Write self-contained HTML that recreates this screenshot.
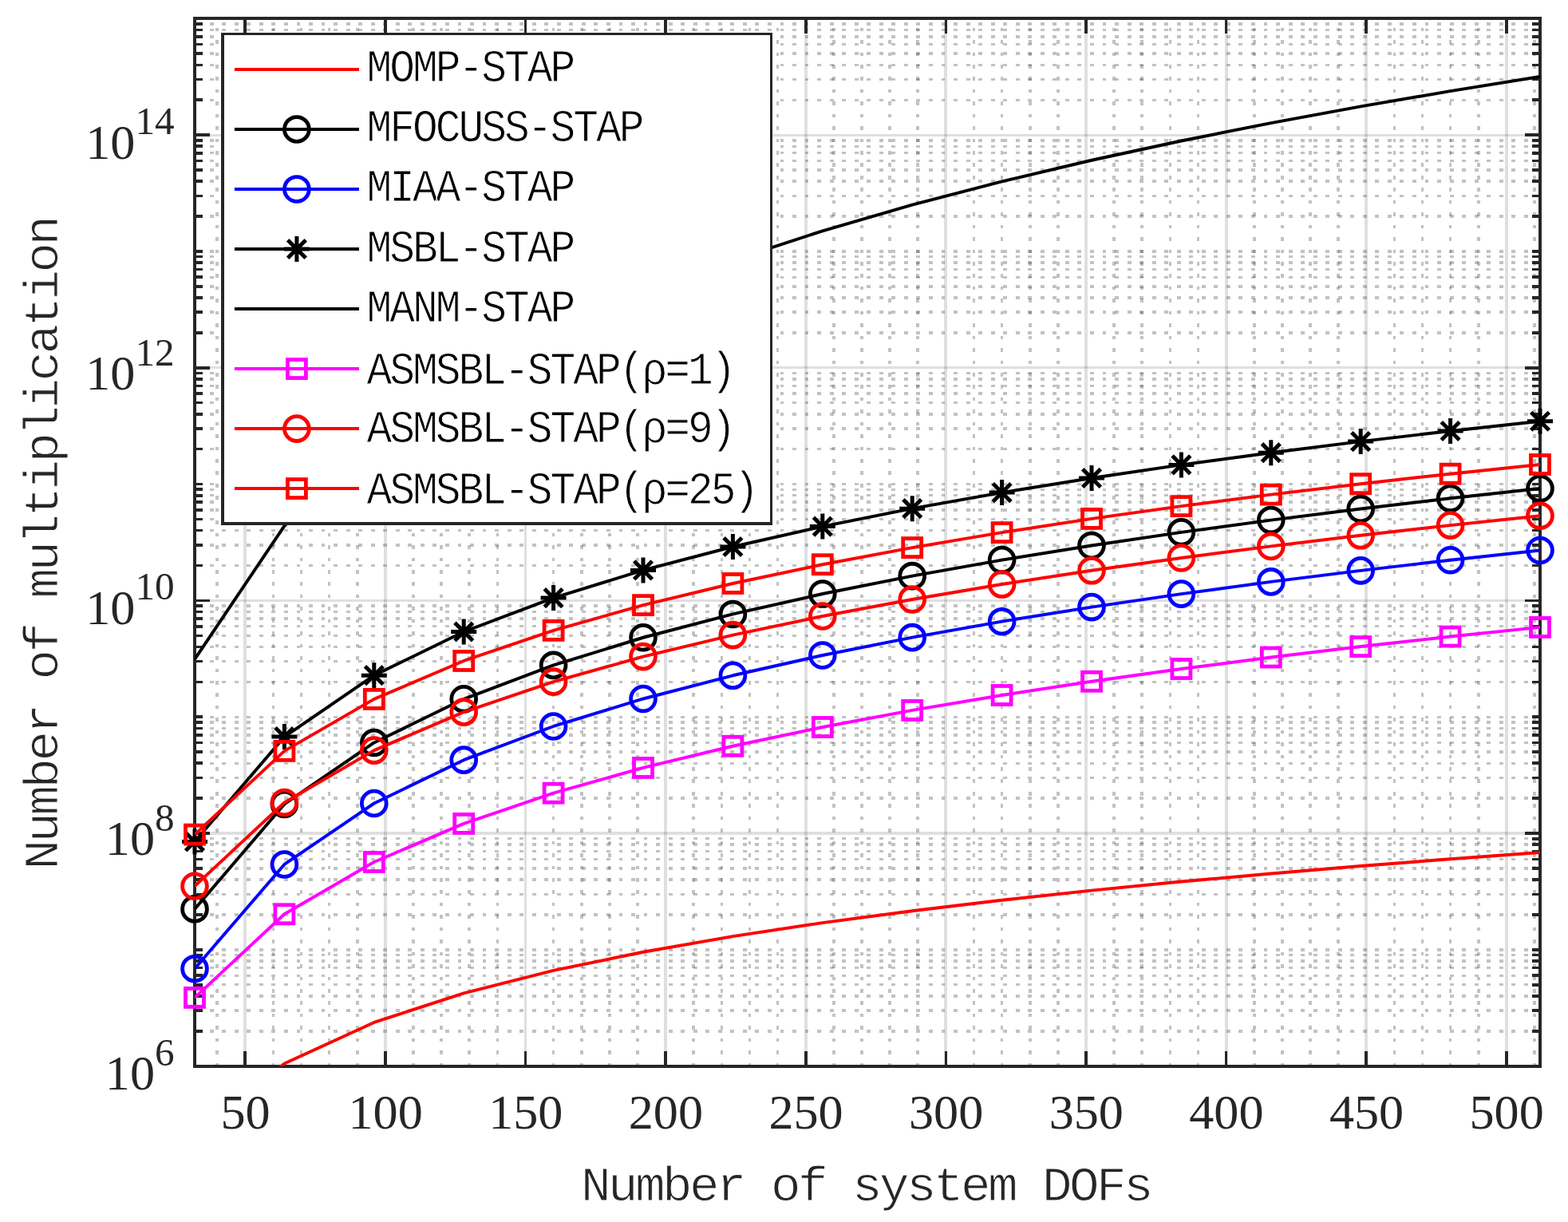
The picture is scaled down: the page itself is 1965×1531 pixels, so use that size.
<!DOCTYPE html>
<html lang="en"><head><meta charset="utf-8"><title>Number of multiplication vs number of system DOFs</title>
<style>html,body{margin:0;padding:0;background:#fff}body{width:1965px;height:1531px;overflow:hidden}svg{display:block}text{font-family:"Liberation Serif",serif}text.m{font-family:"Liberation Mono",monospace}</style></head><body>
<svg width="1965" height="1531" viewBox="0 0 1965 1531">
<rect width="1965" height="1531" fill="#fff"/>
<defs><clipPath id="ax"><rect x="244.00" y="23.30" width="1686.00" height="1312.40"/></clipPath></defs>
<path fill="none" stroke="rgba(20,20,20,0.26)" stroke-width="3.45" shape-rendering="crispEdges" stroke-dasharray="4.900 10.639" d="M1930.30 1291.80H244.00 M1930.30 1266.13H244.00 M1930.30 1247.91H244.00 M1930.30 1233.77H244.00 M1930.30 1222.23H244.00 M1930.30 1212.47H244.00 M1930.30 1204.01H244.00 M1930.30 1196.55H244.00 M1930.30 1189.88H244.00 M1930.30 1145.98H244.00 M1930.30 1120.30H244.00 M1930.30 1102.08H244.00 M1930.30 1087.95H244.00 M1930.30 1076.41H244.00 M1930.30 1066.64H244.00 M1930.30 1058.19H244.00 M1930.30 1050.73H244.00 M1930.30 1000.16H244.00 M1930.30 974.48H244.00 M1930.30 956.26H244.00 M1930.30 942.13H244.00 M1930.30 930.58H244.00 M1930.30 920.82H244.00 M1930.30 912.36H244.00 M1930.30 904.91H244.00 M1930.30 898.23H244.00 M1930.30 854.34H244.00 M1930.30 828.66H244.00 M1930.30 810.44H244.00 M1930.30 796.31H244.00 M1930.30 784.76H244.00 M1930.30 775.00H244.00 M1930.30 766.54H244.00 M1930.30 759.08H244.00 M1930.30 708.51H244.00 M1930.30 682.84H244.00 M1930.30 664.62H244.00 M1930.30 650.49H244.00 M1930.30 638.94H244.00 M1930.30 629.18H244.00 M1930.30 620.72H244.00 M1930.30 613.26H244.00 M1930.30 606.59H244.00 M1930.30 562.69H244.00 M1930.30 537.01H244.00 M1930.30 518.80H244.00 M1930.30 504.66H244.00 M1930.30 493.12H244.00 M1930.30 483.35H244.00 M1930.30 474.90H244.00 M1930.30 467.44H244.00 M1930.30 416.87H244.00 M1930.30 391.19H244.00 M1930.30 372.97H244.00 M1930.30 358.84H244.00 M1930.30 347.29H244.00 M1930.30 337.53H244.00 M1930.30 329.08H244.00 M1930.30 321.62H244.00 M1930.30 314.94H244.00 M1930.30 271.05H244.00 M1930.30 245.37H244.00 M1930.30 227.15H244.00 M1930.30 213.02H244.00 M1930.30 201.47H244.00 M1930.30 191.71H244.00 M1930.30 183.25H244.00 M1930.30 175.79H244.00 M1930.30 125.23H244.00 M1930.30 99.55H244.00 M1930.30 81.33H244.00 M1930.30 67.20H244.00 M1930.30 55.65H244.00 M1930.30 45.89H244.00 M1930.30 37.43H244.00 M1930.30 29.97H244.00"/>
<path fill="none" stroke="rgba(20,20,20,0.26)" stroke-width="3.70" shape-rendering="crispEdges" stroke-dasharray="4.600 10.840" d="M272.10 1336.20V23.30 M342.35 1336.20V23.30 M377.48 1336.20V23.30 M412.60 1336.20V23.30 M447.73 1336.20V23.30 M517.98 1336.20V23.30 M553.10 1336.20V23.30 M588.23 1336.20V23.30 M623.35 1336.20V23.30 M693.60 1336.20V23.30 M728.73 1336.20V23.30 M763.85 1336.20V23.30 M798.98 1336.20V23.30 M869.23 1336.20V23.30 M904.35 1336.20V23.30 M939.48 1336.20V23.30 M974.60 1336.20V23.30 M1044.85 1336.20V23.30 M1079.97 1336.20V23.30 M1115.10 1336.20V23.30 M1150.22 1336.20V23.30 M1220.47 1336.20V23.30 M1255.60 1336.20V23.30 M1290.72 1336.20V23.30 M1325.85 1336.20V23.30 M1396.10 1336.20V23.30 M1431.22 1336.20V23.30 M1466.35 1336.20V23.30 M1501.47 1336.20V23.30 M1571.72 1336.20V23.30 M1606.85 1336.20V23.30 M1641.97 1336.20V23.30 M1677.10 1336.20V23.30 M1747.35 1336.20V23.30 M1782.47 1336.20V23.30 M1817.60 1336.20V23.30 M1852.72 1336.20V23.30 M1922.97 1336.20V23.30"/>
<g fill="none" stroke="rgba(38,38,38,0.15)" shape-rendering="crispEdges">
<path stroke-width="3.9" d="M307.23 1335.70V23.30 M482.85 1335.70V23.30 M658.48 1335.70V23.30 M834.10 1335.70V23.30 M1009.73 1335.70V23.30 M1185.35 1335.70V23.30 M1360.97 1335.70V23.30 M1536.60 1335.70V23.30 M1712.22 1335.70V23.30 M1887.85 1335.70V23.30"/>
<path stroke-width="3.2" d="M244.00 1044.06H1930.00 M244.00 752.41H1930.00 M244.00 460.77H1930.00 M244.00 169.12H1930.00"/>
</g>
<g fill="none" stroke="#262626" shape-rendering="crispEdges">
<path stroke-width="3.60" d="M307.23 1335.70v-19.00 M307.23 23.30v19.00 M482.85 1335.70v-19.00 M482.85 23.30v19.00 M658.48 1335.70v-19.00 M658.48 23.30v19.00 M834.10 1335.70v-19.00 M834.10 23.30v19.00 M1009.73 1335.70v-19.00 M1009.73 23.30v19.00 M1185.35 1335.70v-19.00 M1185.35 23.30v19.00 M1360.97 1335.70v-19.00 M1360.97 23.30v19.00 M1536.60 1335.70v-19.00 M1536.60 23.30v19.00 M1712.22 1335.70v-19.00 M1712.22 23.30v19.00 M1887.85 1335.70v-19.00 M1887.85 23.30v19.00 M244.00 1044.06h19.00 M1930.00 1044.06h-19.00 M244.00 752.41h19.00 M1930.00 752.41h-19.00 M244.00 460.77h19.00 M1930.00 460.77h-19.00 M244.00 169.12h19.00 M1930.00 169.12h-19.00 M244.00 1291.80h9.80 M1930.00 1291.80h-9.80 M244.00 1266.13h9.80 M1930.00 1266.13h-9.80 M244.00 1247.91h9.80 M1930.00 1247.91h-9.80 M244.00 1233.77h9.80 M1930.00 1233.77h-9.80 M244.00 1222.23h9.80 M1930.00 1222.23h-9.80 M244.00 1212.47h9.80 M1930.00 1212.47h-9.80 M244.00 1204.01h9.80 M1930.00 1204.01h-9.80 M244.00 1196.55h9.80 M1930.00 1196.55h-9.80 M244.00 1189.88h9.80 M1930.00 1189.88h-9.80 M244.00 1145.98h9.80 M1930.00 1145.98h-9.80 M244.00 1120.30h9.80 M1930.00 1120.30h-9.80 M244.00 1102.08h9.80 M1930.00 1102.08h-9.80 M244.00 1087.95h9.80 M1930.00 1087.95h-9.80 M244.00 1076.41h9.80 M1930.00 1076.41h-9.80 M244.00 1066.64h9.80 M1930.00 1066.64h-9.80 M244.00 1058.19h9.80 M1930.00 1058.19h-9.80 M244.00 1050.73h9.80 M1930.00 1050.73h-9.80 M244.00 1000.16h9.80 M1930.00 1000.16h-9.80 M244.00 974.48h9.80 M1930.00 974.48h-9.80 M244.00 956.26h9.80 M1930.00 956.26h-9.80 M244.00 942.13h9.80 M1930.00 942.13h-9.80 M244.00 930.58h9.80 M1930.00 930.58h-9.80 M244.00 920.82h9.80 M1930.00 920.82h-9.80 M244.00 912.36h9.80 M1930.00 912.36h-9.80 M244.00 904.91h9.80 M1930.00 904.91h-9.80 M244.00 898.23h9.80 M1930.00 898.23h-9.80 M244.00 854.34h9.80 M1930.00 854.34h-9.80 M244.00 828.66h9.80 M1930.00 828.66h-9.80 M244.00 810.44h9.80 M1930.00 810.44h-9.80 M244.00 796.31h9.80 M1930.00 796.31h-9.80 M244.00 784.76h9.80 M1930.00 784.76h-9.80 M244.00 775.00h9.80 M1930.00 775.00h-9.80 M244.00 766.54h9.80 M1930.00 766.54h-9.80 M244.00 759.08h9.80 M1930.00 759.08h-9.80 M244.00 708.51h9.80 M1930.00 708.51h-9.80 M244.00 682.84h9.80 M1930.00 682.84h-9.80 M244.00 664.62h9.80 M1930.00 664.62h-9.80 M244.00 650.49h9.80 M1930.00 650.49h-9.80 M244.00 638.94h9.80 M1930.00 638.94h-9.80 M244.00 629.18h9.80 M1930.00 629.18h-9.80 M244.00 620.72h9.80 M1930.00 620.72h-9.80 M244.00 613.26h9.80 M1930.00 613.26h-9.80 M244.00 606.59h9.80 M1930.00 606.59h-9.80 M244.00 562.69h9.80 M1930.00 562.69h-9.80 M244.00 537.01h9.80 M1930.00 537.01h-9.80 M244.00 518.80h9.80 M1930.00 518.80h-9.80 M244.00 504.66h9.80 M1930.00 504.66h-9.80 M244.00 493.12h9.80 M1930.00 493.12h-9.80 M244.00 483.35h9.80 M1930.00 483.35h-9.80 M244.00 474.90h9.80 M1930.00 474.90h-9.80 M244.00 467.44h9.80 M1930.00 467.44h-9.80 M244.00 416.87h9.80 M1930.00 416.87h-9.80 M244.00 391.19h9.80 M1930.00 391.19h-9.80 M244.00 372.97h9.80 M1930.00 372.97h-9.80 M244.00 358.84h9.80 M1930.00 358.84h-9.80 M244.00 347.29h9.80 M1930.00 347.29h-9.80 M244.00 337.53h9.80 M1930.00 337.53h-9.80 M244.00 329.08h9.80 M1930.00 329.08h-9.80 M244.00 321.62h9.80 M1930.00 321.62h-9.80 M244.00 314.94h9.80 M1930.00 314.94h-9.80 M244.00 271.05h9.80 M1930.00 271.05h-9.80 M244.00 245.37h9.80 M1930.00 245.37h-9.80 M244.00 227.15h9.80 M1930.00 227.15h-9.80 M244.00 213.02h9.80 M1930.00 213.02h-9.80 M244.00 201.47h9.80 M1930.00 201.47h-9.80 M244.00 191.71h9.80 M1930.00 191.71h-9.80 M244.00 183.25h9.80 M1930.00 183.25h-9.80 M244.00 175.79h9.80 M1930.00 175.79h-9.80 M244.00 125.23h9.80 M1930.00 125.23h-9.80 M244.00 99.55h9.80 M1930.00 99.55h-9.80 M244.00 81.33h9.80 M1930.00 81.33h-9.80 M244.00 67.20h9.80 M1930.00 67.20h-9.80 M244.00 55.65h9.80 M1930.00 55.65h-9.80 M244.00 45.89h9.80 M1930.00 45.89h-9.80 M244.00 37.43h9.80 M1930.00 37.43h-9.80 M244.00 29.97h9.80 M1930.00 29.97h-9.80"/>
<rect x="244.00" y="23.30" width="1686.00" height="1312.40" stroke-width="3.90"/>
</g>
<g fill="none" stroke="#ff0000" stroke-width="3.95">
<polyline clip-path="url(#ax)" stroke-linejoin="round" points="244.00,1420.84 356.40,1332.55 468.80,1280.93 581.20,1244.32 693.60,1215.92 806.00,1192.73 918.40,1173.12 1030.80,1156.14 1143.20,1141.17 1255.60,1127.77 1368.00,1115.65 1480.40,1104.59 1592.80,1094.42 1705.20,1085.00 1817.60,1076.23 1930.00,1068.03"/>
</g>
<g fill="none" stroke="#000000" stroke-width="3.95">
<polyline clip-path="url(#ax)" stroke-linejoin="round" points="244.00,1138.90 356.40,1007.47 468.80,930.47 581.20,875.81 693.60,833.41 806.00,798.75 918.40,769.44 1030.80,744.05 1143.20,721.64 1255.60,701.59 1368.00,683.44 1480.40,666.87 1592.80,651.62 1705.20,637.49 1817.60,624.33 1930.00,612.02"/>
<g stroke-width="4.80"><circle cx="244.00" cy="1138.90" r="15.40"/><circle cx="356.40" cy="1007.47" r="15.40"/><circle cx="468.80" cy="930.47" r="15.40"/><circle cx="581.20" cy="875.81" r="15.40"/><circle cx="693.60" cy="833.41" r="15.40"/><circle cx="806.00" cy="798.75" r="15.40"/><circle cx="918.40" cy="769.44" r="15.40"/><circle cx="1030.80" cy="744.05" r="15.40"/><circle cx="1143.20" cy="721.64" r="15.40"/><circle cx="1255.60" cy="701.59" r="15.40"/><circle cx="1368.00" cy="683.44" r="15.40"/><circle cx="1480.40" cy="666.87" r="15.40"/><circle cx="1592.80" cy="651.62" r="15.40"/><circle cx="1705.20" cy="637.49" r="15.40"/><circle cx="1817.60" cy="624.33" r="15.40"/><circle cx="1930.00" cy="612.02" r="15.40"/></g>
</g>
<g fill="none" stroke="#0000ff" stroke-width="3.95">
<polyline clip-path="url(#ax)" stroke-linejoin="round" points="244.00,1213.68 356.40,1082.99 468.80,1006.50 581.20,952.17 693.60,909.98 806.00,875.48 918.40,846.29 1030.80,820.99 1143.20,798.66 1255.60,778.68 1368.00,760.60 1480.40,744.09 1592.80,728.90 1705.20,714.84 1817.60,701.74 1930.00,689.49"/>
<g stroke-width="4.80"><circle cx="244.00" cy="1213.68" r="15.40"/><circle cx="356.40" cy="1082.99" r="15.40"/><circle cx="468.80" cy="1006.50" r="15.40"/><circle cx="581.20" cy="952.17" r="15.40"/><circle cx="693.60" cy="909.98" r="15.40"/><circle cx="806.00" cy="875.48" r="15.40"/><circle cx="918.40" cy="846.29" r="15.40"/><circle cx="1030.80" cy="820.99" r="15.40"/><circle cx="1143.20" cy="798.66" r="15.40"/><circle cx="1255.60" cy="778.68" r="15.40"/><circle cx="1368.00" cy="760.60" r="15.40"/><circle cx="1480.40" cy="744.09" r="15.40"/><circle cx="1592.80" cy="728.90" r="15.40"/><circle cx="1705.20" cy="714.84" r="15.40"/><circle cx="1817.60" cy="701.74" r="15.40"/><circle cx="1930.00" cy="689.49" r="15.40"/></g>
</g>
<g fill="none" stroke="#000000" stroke-width="3.95">
<polyline clip-path="url(#ax)" stroke-linejoin="round" points="244.00,1054.47 356.40,923.04 468.80,846.15 581.20,791.51 693.60,749.08 806.00,714.38 918.40,685.03 1030.80,659.60 1143.20,637.17 1255.60,617.10 1368.00,598.96 1480.40,582.40 1592.80,567.18 1705.20,553.09 1817.60,539.99 1930.00,527.74"/>
<g stroke-width="4.80"><path stroke-width="5.00" d="M244.00 1038.47v32.00M228.00 1054.47h32.00M232.69 1043.16l22.63 22.63M232.69 1065.78l22.63 -22.63"/><path stroke-width="5.00" d="M356.40 907.04v32.00M340.40 923.04h32.00M345.09 911.73l22.63 22.63M345.09 934.35l22.63 -22.63"/><path stroke-width="5.00" d="M468.80 830.15v32.00M452.80 846.15h32.00M457.49 834.84l22.63 22.63M457.49 857.46l22.63 -22.63"/><path stroke-width="5.00" d="M581.20 775.51v32.00M565.20 791.51h32.00M569.89 780.20l22.63 22.63M569.89 802.82l22.63 -22.63"/><path stroke-width="5.00" d="M693.60 733.08v32.00M677.60 749.08h32.00M682.29 737.77l22.63 22.63M682.29 760.39l22.63 -22.63"/><path stroke-width="5.00" d="M806.00 698.38v32.00M790.00 714.38h32.00M794.69 703.07l22.63 22.63M794.69 725.69l22.63 -22.63"/><path stroke-width="5.00" d="M918.40 669.03v32.00M902.40 685.03h32.00M907.09 673.72l22.63 22.63M907.09 696.34l22.63 -22.63"/><path stroke-width="5.00" d="M1030.80 643.60v32.00M1014.80 659.60h32.00M1019.49 648.29l22.63 22.63M1019.49 670.91l22.63 -22.63"/><path stroke-width="5.00" d="M1143.20 621.17v32.00M1127.20 637.17h32.00M1131.89 625.86l22.63 22.63M1131.89 648.48l22.63 -22.63"/><path stroke-width="5.00" d="M1255.60 601.10v32.00M1239.60 617.10h32.00M1244.29 605.79l22.63 22.63M1244.29 628.41l22.63 -22.63"/><path stroke-width="5.00" d="M1368.00 582.96v32.00M1352.00 598.96h32.00M1356.69 587.65l22.63 22.63M1356.69 610.27l22.63 -22.63"/><path stroke-width="5.00" d="M1480.40 566.40v32.00M1464.40 582.40h32.00M1469.09 571.09l22.63 22.63M1469.09 593.71l22.63 -22.63"/><path stroke-width="5.00" d="M1592.80 551.18v32.00M1576.80 567.18h32.00M1581.49 555.87l22.63 22.63M1581.49 578.49l22.63 -22.63"/><path stroke-width="5.00" d="M1705.20 537.09v32.00M1689.20 553.09h32.00M1693.89 541.78l22.63 22.63M1693.89 564.40l22.63 -22.63"/><path stroke-width="5.00" d="M1817.60 523.99v32.00M1801.60 539.99h32.00M1806.29 528.68l22.63 22.63M1806.29 551.30l22.63 -22.63"/><path stroke-width="5.00" d="M1930.00 511.74v32.00M1914.00 527.74h32.00M1918.69 516.43l22.63 22.63M1918.69 539.05l22.63 -22.63"/></g>
</g>
<g fill="none" stroke="#000000" stroke-width="3.95">
<polyline clip-path="url(#ax)" stroke-linejoin="round" points="244.00,825.96 356.40,658.80 468.80,554.59 581.20,478.39 693.60,418.25 806.00,368.54 918.40,326.18 1030.80,289.29 1143.20,256.62 1255.60,227.31 1368.00,200.75 1480.40,176.46 1592.80,154.10 1705.20,133.38 1817.60,114.09 1930.00,96.04"/>
</g>
<g fill="none" stroke="#ff00ff" stroke-width="3.95">
<polyline clip-path="url(#ax)" stroke-linejoin="round" points="244.00,1249.88 356.40,1145.27 468.80,1080.00 581.20,1031.92 693.60,993.70 806.00,961.94 918.40,934.76 1030.80,911.01 1143.20,889.92 1255.60,870.96 1368.00,853.76 1480.40,838.02 1592.80,823.52 1705.20,810.08 1817.60,797.58 1930.00,785.88"/>
<g stroke-width="4.80"><rect x="232.50" y="1238.38" width="23.00" height="23.00"/><rect x="344.90" y="1133.77" width="23.00" height="23.00"/><rect x="457.30" y="1068.50" width="23.00" height="23.00"/><rect x="569.70" y="1020.42" width="23.00" height="23.00"/><rect x="682.10" y="982.20" width="23.00" height="23.00"/><rect x="794.50" y="950.44" width="23.00" height="23.00"/><rect x="906.90" y="923.26" width="23.00" height="23.00"/><rect x="1019.30" y="899.51" width="23.00" height="23.00"/><rect x="1131.70" y="878.42" width="23.00" height="23.00"/><rect x="1244.10" y="859.46" width="23.00" height="23.00"/><rect x="1356.50" y="842.26" width="23.00" height="23.00"/><rect x="1468.90" y="826.52" width="23.00" height="23.00"/><rect x="1581.30" y="812.02" width="23.00" height="23.00"/><rect x="1693.70" y="798.58" width="23.00" height="23.00"/><rect x="1806.10" y="786.08" width="23.00" height="23.00"/><rect x="1918.50" y="774.38" width="23.00" height="23.00"/></g>
</g>
<g fill="none" stroke="#ff0000" stroke-width="3.95">
<polyline clip-path="url(#ax)" stroke-linejoin="round" points="244.00,1110.22 356.40,1005.48 468.80,940.10 581.20,892.14 693.60,854.13 806.00,822.58 918.40,795.58 1030.80,771.97 1143.20,750.96 1255.60,732.04 1368.00,714.81 1480.40,699.01 1592.80,684.39 1705.20,670.80 1817.60,658.10 1930.00,646.18"/>
<g stroke-width="4.80"><circle cx="244.00" cy="1110.22" r="15.40"/><circle cx="356.40" cy="1005.48" r="15.40"/><circle cx="468.80" cy="940.10" r="15.40"/><circle cx="581.20" cy="892.14" r="15.40"/><circle cx="693.60" cy="854.13" r="15.40"/><circle cx="806.00" cy="822.58" r="15.40"/><circle cx="918.40" cy="795.58" r="15.40"/><circle cx="1030.80" cy="771.97" r="15.40"/><circle cx="1143.20" cy="750.96" r="15.40"/><circle cx="1255.60" cy="732.04" r="15.40"/><circle cx="1368.00" cy="714.81" r="15.40"/><circle cx="1480.40" cy="699.01" r="15.40"/><circle cx="1592.80" cy="684.39" r="15.40"/><circle cx="1705.20" cy="670.80" r="15.40"/><circle cx="1817.60" cy="658.10" r="15.40"/><circle cx="1930.00" cy="646.18" r="15.40"/></g>
</g>
<g fill="none" stroke="#ff0000" stroke-width="3.95">
<polyline clip-path="url(#ax)" stroke-linejoin="round" points="244.00,1045.59 356.40,940.85 468.80,875.87 581.20,827.97 693.60,789.85 806.00,758.14 918.40,730.96 1030.80,707.20 1143.20,686.09 1255.60,667.12 1368.00,649.89 1480.40,634.13 1592.80,619.62 1705.20,606.18 1817.60,593.67 1930.00,581.97"/>
<g stroke-width="4.80"><rect x="232.50" y="1034.09" width="23.00" height="23.00"/><rect x="344.90" y="929.35" width="23.00" height="23.00"/><rect x="457.30" y="864.37" width="23.00" height="23.00"/><rect x="569.70" y="816.47" width="23.00" height="23.00"/><rect x="682.10" y="778.35" width="23.00" height="23.00"/><rect x="794.50" y="746.64" width="23.00" height="23.00"/><rect x="906.90" y="719.46" width="23.00" height="23.00"/><rect x="1019.30" y="695.70" width="23.00" height="23.00"/><rect x="1131.70" y="674.59" width="23.00" height="23.00"/><rect x="1244.10" y="655.62" width="23.00" height="23.00"/><rect x="1356.50" y="638.39" width="23.00" height="23.00"/><rect x="1468.90" y="622.63" width="23.00" height="23.00"/><rect x="1581.30" y="608.12" width="23.00" height="23.00"/><rect x="1693.70" y="594.68" width="23.00" height="23.00"/><rect x="1806.10" y="582.17" width="23.00" height="23.00"/><rect x="1918.50" y="570.47" width="23.00" height="23.00"/></g>
</g>
<rect x="279.10" y="42.60" width="687.40" height="613.70" fill="#fff" stroke="#262626" stroke-width="3.6" shape-rendering="crispEdges"/>
<g fill="none" stroke="#ff0000" stroke-width="4.0">
<path d="M293.9 86.90H450"/>
</g>
<text class="m" transform="translate(459.60 102.40) scale(0.9200 1)" font-size="57.50" letter-spacing="-3.250" fill="#000" stroke="#fff" stroke-width="0.90">MOMP-STAP</text>
<g fill="none" stroke="#000000" stroke-width="4.0">
<path d="M293.9 161.93H450"/>
<g stroke-width="4.80"><circle cx="371.90" cy="161.93" r="15.40"/></g>
</g>
<text class="m" transform="translate(459.60 177.30) scale(0.9200 1)" font-size="57.50" letter-spacing="-3.250" fill="#000" stroke="#fff" stroke-width="0.90">MFOCUSS-STAP</text>
<g fill="none" stroke="#0000ff" stroke-width="4.0">
<path d="M293.9 236.96H450"/>
<g stroke-width="4.80"><circle cx="371.90" cy="236.96" r="15.40"/></g>
</g>
<text class="m" transform="translate(459.60 252.20) scale(0.9200 1)" font-size="57.50" letter-spacing="-3.250" fill="#000" stroke="#fff" stroke-width="0.90">MIAA-STAP</text>
<g fill="none" stroke="#000000" stroke-width="4.0">
<path d="M293.9 311.99H450"/>
<g stroke-width="4.80"><path stroke-width="5.00" d="M371.90 295.99v32.00M355.90 311.99h32.00M360.59 300.68l22.63 22.63M360.59 323.30l22.63 -22.63"/></g>
</g>
<text class="m" transform="translate(459.60 327.60) scale(0.9200 1)" font-size="57.50" letter-spacing="-3.250" fill="#000" stroke="#fff" stroke-width="0.90">MSBL-STAP</text>
<g fill="none" stroke="#000000" stroke-width="4.0">
<path d="M293.9 387.02H450"/>
</g>
<text class="m" transform="translate(459.60 403.00) scale(0.9200 1)" font-size="57.50" letter-spacing="-3.250" fill="#000" stroke="#fff" stroke-width="0.90">MANM-STAP</text>
<g fill="none" stroke="#ff00ff" stroke-width="4.0">
<path d="M293.9 462.05H450"/>
<g stroke-width="4.80"><rect x="360.40" y="450.55" width="23.00" height="23.00"/></g>
</g>
<text class="m" transform="translate(459.60 481.00) scale(0.9200 1)" font-size="57.50" letter-spacing="-3.250" fill="#000" stroke="#fff" stroke-width="0.90">ASMSBL-STAP(ρ=1)</text>
<g fill="none" stroke="#ff0000" stroke-width="4.0">
<path d="M293.9 537.08H450"/>
<g stroke-width="4.80"><circle cx="371.90" cy="537.08" r="15.40"/></g>
</g>
<text class="m" transform="translate(459.60 553.70) scale(0.9200 1)" font-size="57.50" letter-spacing="-3.250" fill="#000" stroke="#fff" stroke-width="0.90">ASMSBL-STAP(ρ=9)</text>
<g fill="none" stroke="#ff0000" stroke-width="4.0">
<path d="M293.9 612.11H450"/>
<g stroke-width="4.80"><rect x="360.40" y="600.61" width="23.00" height="23.00"/></g>
</g>
<text class="m" transform="translate(459.60 631.00) scale(0.9200 1)" font-size="57.50" letter-spacing="-3.250" fill="#000" stroke="#fff" stroke-width="0.90">ASMSBL-STAP(ρ=25)</text>
<text x="307.53" y="1414.4" font-size="62.20" fill="#262626" text-anchor="middle">50</text>
<text x="483.15" y="1414.4" font-size="62.20" fill="#262626" text-anchor="middle">100</text>
<text x="658.77" y="1414.4" font-size="62.20" fill="#262626" text-anchor="middle">150</text>
<text x="834.40" y="1414.4" font-size="62.20" fill="#262626" text-anchor="middle">200</text>
<text x="1010.02" y="1414.4" font-size="62.20" fill="#262626" text-anchor="middle">250</text>
<text x="1185.65" y="1414.4" font-size="62.20" fill="#262626" text-anchor="middle">300</text>
<text x="1361.27" y="1414.4" font-size="62.20" fill="#262626" text-anchor="middle">350</text>
<text x="1536.90" y="1414.4" font-size="62.20" fill="#262626" text-anchor="middle">400</text>
<text x="1712.52" y="1414.4" font-size="62.20" fill="#262626" text-anchor="middle">450</text>
<text x="1888.15" y="1414.4" font-size="62.20" fill="#262626" text-anchor="middle">500</text>
<text x="218.60" y="1364.50" font-size="62.20" fill="#262626" text-anchor="end">10<tspan font-size="49.20" dy="-30.00">6</tspan></text>
<text x="218.60" y="1070.90" font-size="62.20" fill="#262626" text-anchor="end">10<tspan font-size="49.20" dy="-30.30">8</tspan></text>
<text x="218.60" y="781.50" font-size="62.20" fill="#262626" text-anchor="end">10<tspan font-size="49.20" dy="-30.90">10</tspan></text>
<text x="218.60" y="487.80" font-size="62.20" fill="#262626" text-anchor="end">10<tspan font-size="49.20" dy="-30.00">12</tspan></text>
<text x="218.60" y="198.60" font-size="62.20" fill="#262626" text-anchor="end">10<tspan font-size="49.20" dy="-31.10">14</tspan></text>
<text class="m" transform="translate(728.00 1504.30) scale(1.0222 1)" font-size="61.20" letter-spacing="-3.459" fill="#262626" stroke="#fff" stroke-width="0.90">Number of system DOFs</text>
<text class="m" transform="translate(71.60 1089.50) rotate(-90) scale(1.0222 1)" font-size="61.20" letter-spacing="-3.459" fill="#262626" stroke="#fff" stroke-width="0.90">Number of multiplication</text>
</svg></body></html>
